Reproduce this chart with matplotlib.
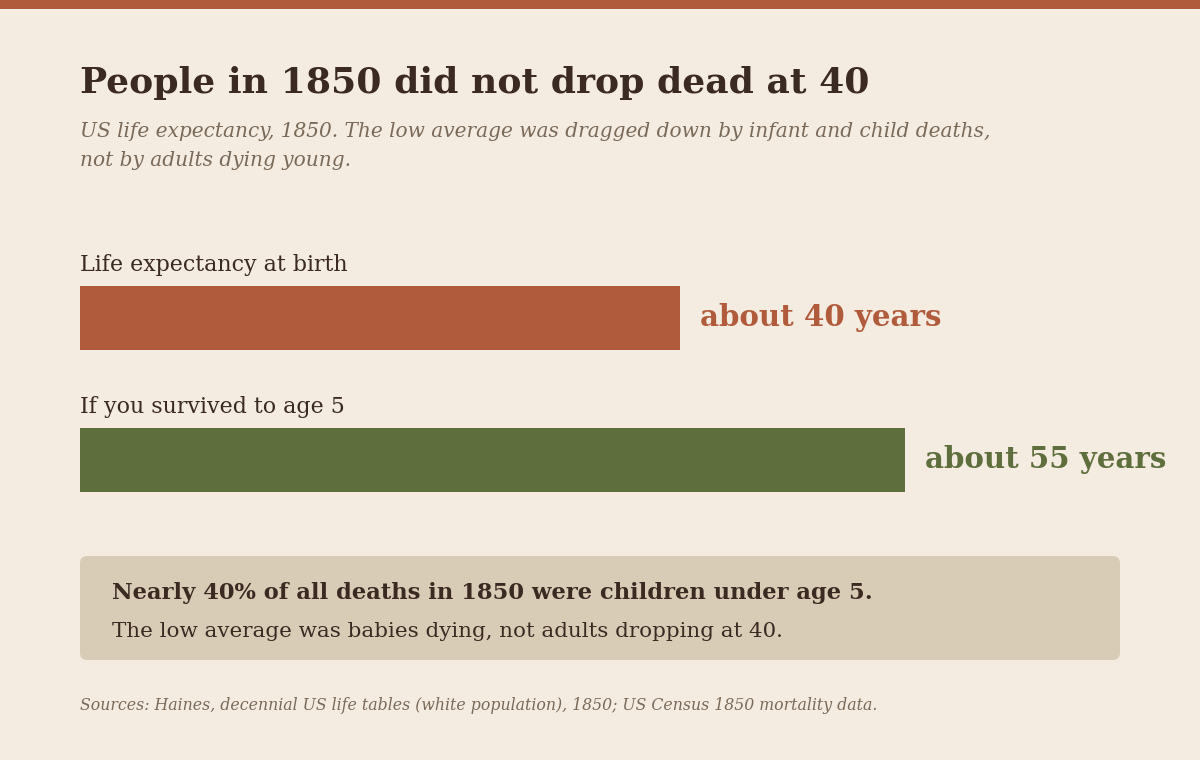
import matplotlib
matplotlib.use("Agg")
from matplotlib import pyplot as plt
from matplotlib.patches import FancyBboxPatch, Rectangle

# Data
categories = ["Life expectancy at birth", "If you survived to age 5"]
years = [40, 55]
value_labels = ["about 40 years", "about 55 years"]
bar_colors = ["#b05b3b", "#5e6e3c"]

title = "People in 1850 did not drop dead at 40"
subtitle_lines = ["US life expectancy, 1850. The low average was dragged down by infant and child deaths,",
                  "not by adults dying young."]
callout_bold = "Nearly 40% of all deaths in 1850 were children under age 5."
callout_text = "The low average was babies dying, not adults dropping at 40."
source = "Sources: Haines, decennial US life tables (white population), 1850; US Census 1850 mortality data."

BG = "#f4ece0"
INK = "#3b2a22"
MUTED = "#7a6a5a"
W, H = 1200, 760

plt.rcParams["font.family"] = ["DejaVu Serif"]

fig = plt.figure(figsize=(W / 100, H / 100), dpi=100, facecolor=BG)


def fx(px):
    return px / W


def fy(py):
    return 1 - py / H


# top stripe
fig.patches.append(Rectangle((0, fy(9)), 1, 9 / H, transform=fig.transFigure,
                             facecolor="#b05c3c", edgecolor="none"))

fig.text(fx(80), fy(93), title, fontsize=26, fontweight="bold", color=INK, va="baseline")
for k, line in enumerate(subtitle_lines):
    fig.text(fx(80), fy(137 + 29 * k), line, fontsize=14.5, style="italic", color=MUTED,
             va="baseline")

# bars: 15 px per year, rows 142 px apart
ax = fig.add_axes([fx(80), fy(531), fx(1040), 284 / H])
ax.set_facecolor("none")
ax.set_xlim(0, 1040 / 15)
ax.set_ylim(1.5, -0.5)
ax.axis("off")
rows = list(range(len(categories)))
ax.barh(rows, years, height=64 / 142, color=bar_colors, edgecolor="none")
for i, (cat, v, lab, c) in enumerate(zip(categories, years, value_labels, bar_colors)):
    ax.text(0, i - 0.33, cat, fontsize=15.9, color=INK, va="baseline", ha="left")
    ax.annotate(lab, (v, i), xytext=(20, 0), textcoords="offset pixels",
                fontsize=21.1, fontweight="bold", color=c, va="center", ha="left")

# callout box
fig.patches.append(FancyBboxPatch((fx(80), fy(660)), fx(1040), 104 / H,
                                  boxstyle="round,pad=0,rounding_size=0.006",
                                  transform=fig.transFigure, facecolor="#d9ccb6",
                                  edgecolor="none", mutation_aspect=W / H))
fig.text(fx(112), fy(599), callout_bold, fontsize=16.25, fontweight="bold", color=INK, va="baseline")
fig.text(fx(112), fy(637), callout_text, fontsize=15.4, color=INK, va="baseline")

fig.text(fx(80), fy(710), source, fontsize=11.35, style="italic", color=MUTED, va="baseline")

fig.savefig("out.png", dpi=100, facecolor=BG)
